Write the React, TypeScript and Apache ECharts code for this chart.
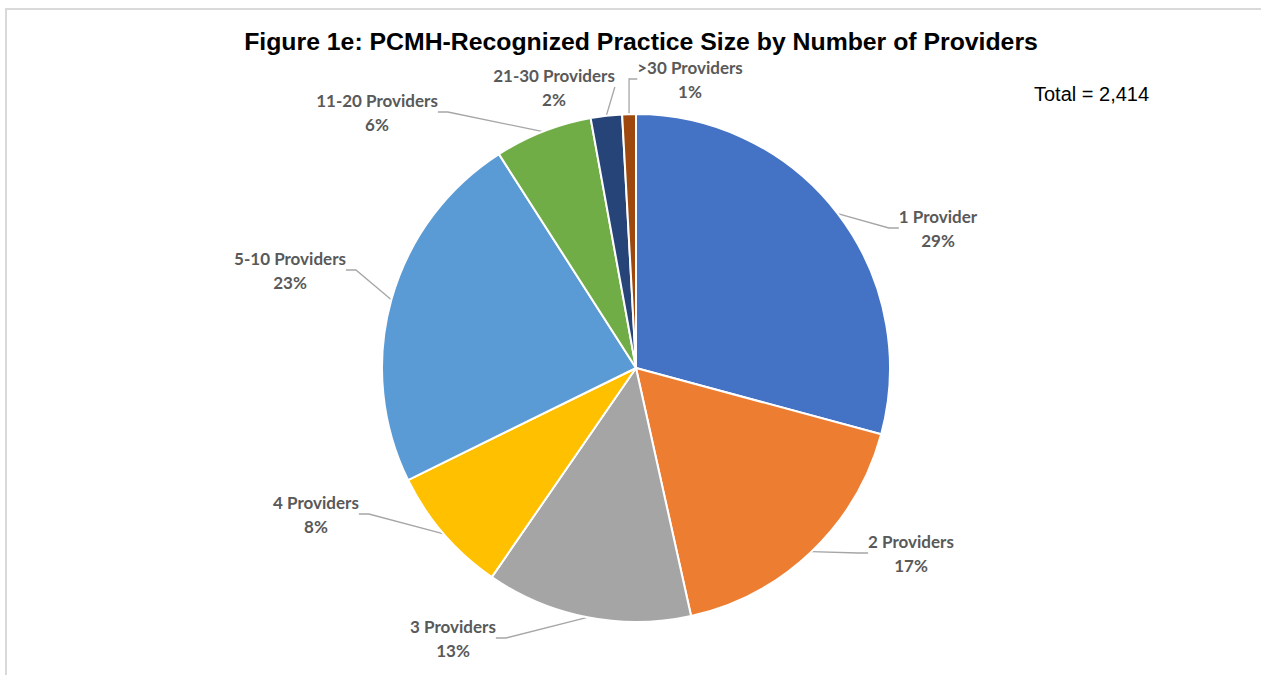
import React, { useEffect, useRef } from "react";
import * as echarts from "echarts";

const categories = ["1 Provider", "2 Providers", "3 Providers", "4 Providers", "5-10 Providers", "11-20 Providers", "21-30 Providers", ">30 Providers"];
const counts = [705, 418, 316, 196, 560, 150, 48, 21];
const colors = ["#4472C4", "#ED7D31", "#A5A5A5", "#FFC000", "#5B9BD5", "#70AD47", "#264478", "#9E480E"];
const titleText = "Figure 1e: PCMH-Recognized Practice Size by Number of Providers";
const totalText = "Total = 2,414";

// label block centres (layout only)
const labelPos: [number, number][] = [
  [938, 228], [911, 553], [453, 638], [316, 514], [290, 270], [377, 112], [554, 87], [690, 79],
];

export default function App() {
  const ref = useRef<HTMLDivElement>(null);
  useEffect(() => {
    if (!ref.current) return;
    const chart = echarts.init(ref.current, null, { renderer: "svg" });
    chart.setOption({
      animation: false,
      backgroundColor: "#ffffff",
      graphic: [
        { type: "rect", shape: { x: 6, y: 9, width: 1400, height: 800 }, style: { fill: "none", stroke: "#d9d9d9", lineWidth: 2 }, silent: true },
        { type: "text", x: 641, y: 41, style: { text: titleText, font: "bold 24.8px 'Liberation Sans', Arial", fill: "#000", align: "center", verticalAlign: "middle" } },
        { type: "text", x: 1034, y: 84, style: { text: totalText, font: "20px 'Liberation Sans', Arial", fill: "#000" } },
      ],
      series: [
        {
          type: "pie",
          center: [636, 368],
          radius: 254,
          startAngle: 90,
          clockwise: true,
          avoidLabelOverlap: false,
          itemStyle: { borderColor: "#fff", borderWidth: 2 },
          data: categories.map((c, i) => ({ name: c, value: counts[i], itemStyle: { color: colors[i] } })),
          label: {
            show: true,
            formatter: (p: any) => `{a|${p.name}}\n{a|${Math.round(p.percent)}%}`,
            rich: { a: { align: "center", fontFamily: "Lato, 'Open Sans', sans-serif", fontWeight: "bold", fontSize: 17, color: "#595959", lineHeight: 24 } },
          },
          labelLine: { show: true, length: 20, length2: 10, lineStyle: { color: "#a6a6a6", width: 1.3 } },
          labelLayout: (p: any) => ({
            x: labelPos[p.dataIndex][0],
            y: labelPos[p.dataIndex][1],
            align: "center",
            verticalAlign: "middle",
          }),
        },
      ],
    });
    return () => chart.dispose();
  }, []);
  return <div ref={ref} style={{ position: "fixed", left: 0, top: 0, width: 1261, height: 675 }} />;
}
